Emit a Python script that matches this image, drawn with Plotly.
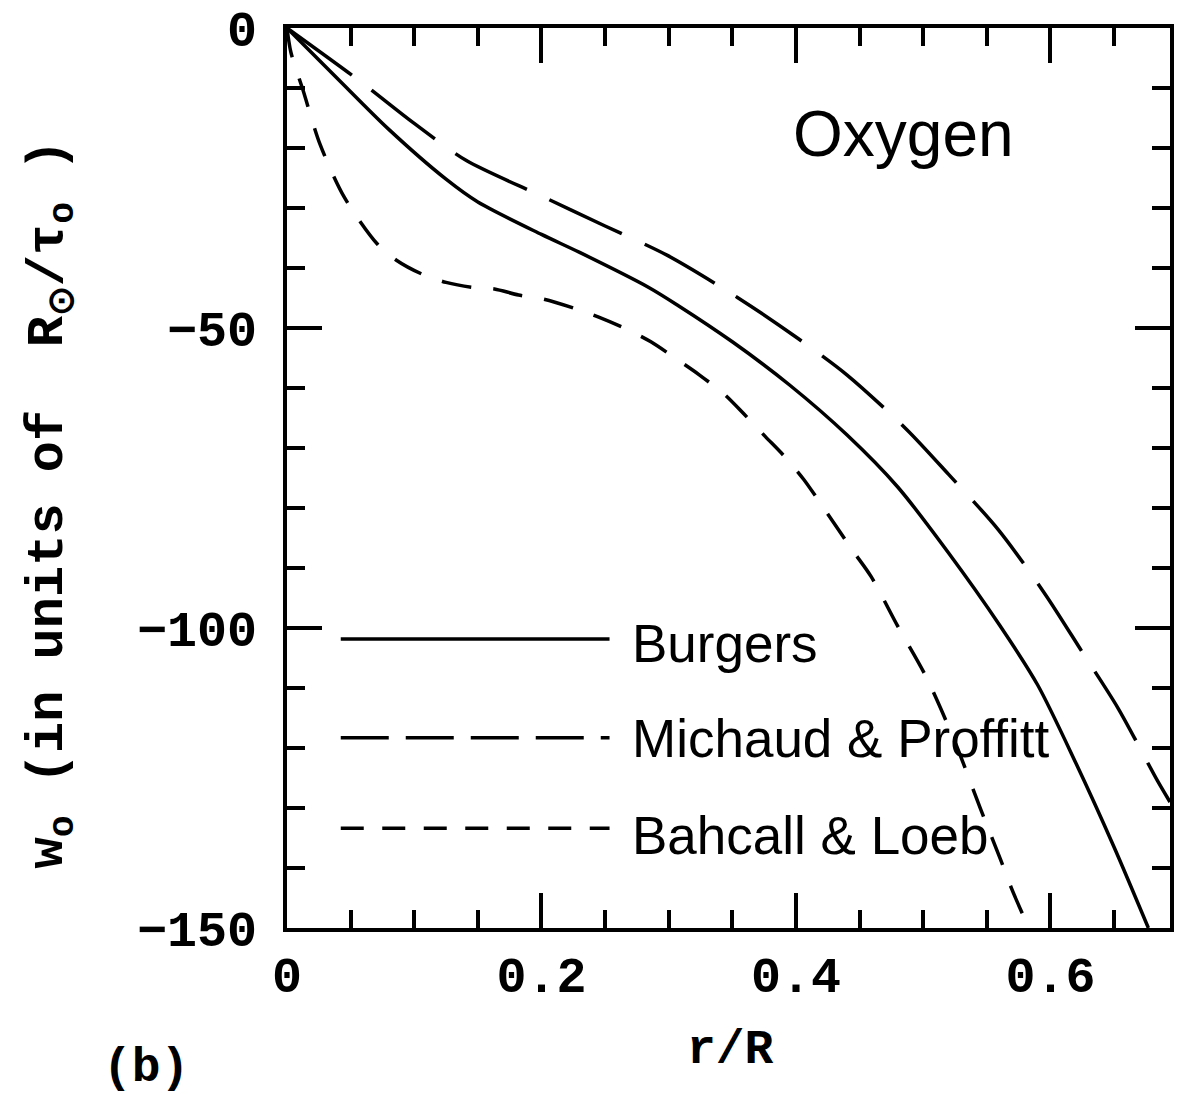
import plotly.graph_objects as go

# ---- data ----
burgers_x = [0, 0.04, 0.08, 0.125, 0.15, 0.2, 0.23, 0.284, 0.307, 0.35, 0.395,
             0.44, 0.48, 0.52, 0.56, 0.59, 0.62, 0.65, 0.677]
burgers_y = [0, -8.5, -16.9, -25.2, -29.0, -34.4, -37.4, -43.2, -46.2, -52.3, -59.5,
             -67.8, -76.5, -87.5, -99.5, -109.5, -122.5, -136.5, -150]

michaud_x = [0, 0.057, 0.1, 0.141, 0.199, 0.25, 0.299, 0.354, 0.4, 0.44, 0.487,
             0.52, 0.559, 0.596, 0.625, 0.653, 0.684, 0.694]
michaud_y = [0, -8.8, -15.9, -22.1, -27.9, -33.0, -37.9, -44.9, -51.5, -57.8, -66.9,
             -74.4, -83.6, -94.4, -104.0, -113.3, -125.4, -129.0]

bahcall_x = [0, 0.003, 0.0125, 0.026, 0.045, 0.071, 0.086, 0.106, 0.125, 0.145,
             0.163, 0.182, 0.202, 0.227, 0.245, 0.268, 0.286, 0.307, 0.324, 0.344,
             0.359, 0.376, 0.391, 0.406, 0.425, 0.445, 0.459, 0.48, 0.502, 0.525,
             0.545, 0.561, 0.57, 0.582]
bahcall_y = [0, -4.0, -10.3, -19.4, -28.2, -36.0, -38.7, -41.0, -42.4, -43.2,
             -43.5, -44.5, -45.2, -46.8, -48.2, -50.3, -52.3, -55.3, -57.8, -61.1,
             -64.3, -68.1, -71.4, -75.2, -81.0, -87.2, -91.4, -99.7, -108.0, -119.0,
             -130.1, -138.7, -143.7, -149.5]

series_names = ["Burgers", "Michaud & Proffitt", "Bahcall & Loeb"]
x_ticks = [0, 0.2, 0.4, 0.6]
x_tick_labels = ["0", "0.2", "0.4", "0.6"]
y_ticks = [0, -50, -100, -150]
y_tick_labels = ["0", "\u221250", "\u2212100", "\u2212150"]

fig = go.Figure()
fig.add_trace(go.Scatter(x=burgers_x, y=burgers_y, mode="lines", name=series_names[0],
                         line=dict(color="black", width=3.5, shape="spline", smoothing=0.8)))
fig.add_trace(go.Scatter(x=michaud_x, y=michaud_y, mode="lines", name=series_names[1],
                         line=dict(color="black", width=3.5, dash="80px,25px", shape="spline", smoothing=0.8)))
fig.add_trace(go.Scatter(x=bahcall_x, y=bahcall_y, mode="lines", name=series_names[2],
                         line=dict(color="black", width=3.5, dash="30px,22px", shape="spline", smoothing=0.8)))

W, H = 1177, 1095
L, R, T, B = 287, 3, 25, 167
pw, ph = W - L - R, H - T - B

def px(xp):
    return (xp - L) / pw

def py(yp):
    return (H - B - yp) / ph

tickfont = dict(family="Liberation Mono", size=50, color="black", weight="bold")

fig.update_layout(
    width=W, height=H,
    margin=dict(l=L, r=R, t=T, b=B),
    paper_bgcolor="white", plot_bgcolor="white",
    showlegend=False,
    xaxis=dict(range=[0, 0.694], tickvals=x_ticks, ticktext=x_tick_labels,
               ticks="inside", ticklen=35, tickwidth=3.5, tickcolor="black",
               minor=dict(dtick=0.05, ticks="inside", ticklen=18, tickwidth=3.5, tickcolor="black"),
               showline=True, linewidth=4, linecolor="black", mirror="ticks",
               showgrid=False, zeroline=False, tickfont=tickfont, ticklabelstandoff=0),
    yaxis=dict(range=[-150, 0], tickvals=y_ticks, ticktext=y_tick_labels,
               ticks="inside", ticklen=35, tickwidth=3.5, tickcolor="black",
               minor=dict(dtick=10, ticks="inside", ticklen=18, tickwidth=3.5, tickcolor="black"),
               showline=True, linewidth=4, linecolor="black", mirror="ticks",
               showgrid=False, zeroline=False, tickfont=tickfont, ticklabelstandoff=16),
)

# legend drawn inside the plot, as in the reference
leg_rows = [(638, 643, "solid"), (737, 738, "48px,17px"), (828, 835, "23px,18.5px")]
for (ly, ty, dash), name in zip(leg_rows, series_names):
    fig.add_shape(type="line", xref="paper", yref="paper",
                  x0=px(341), x1=px(611), y0=py(ly), y1=py(ly),
                  line=dict(color="black", width=3.5, dash=dash))
    fig.add_annotation(xref="paper", yref="paper", x=px(632), y=py(ty),
                       text=name, showarrow=False, xanchor="left", yanchor="middle",
                       font=dict(family="Liberation Sans", size=53, color="black"))

fig.add_annotation(xref="paper", yref="paper", x=px(906), y=py(131), text="Oxygen",
                   showarrow=False, xanchor="center", yanchor="middle",
                   font=dict(family="Liberation Sans", size=64, color="black"))

monofont = dict(family="Liberation Mono", size=48, color="black", weight="bold")
fig.add_annotation(xref="paper", yref="paper", x=px(733), y=py(1050), text="r/R",
                   showarrow=False, xanchor="center", yanchor="middle", font=monofont)
fig.add_annotation(xref="paper", yref="paper", x=px(145), y=py(1068), text="(b)",
                   showarrow=False, xanchor="center", yanchor="middle", font=monofont)
fig.add_annotation(xref="paper", yref="paper", x=px(50), y=py(503),
                   text="w<sub>o</sub> (in units of  R<sub>\u2299</sub>/\u03c4<sub>o</sub> )",
                   textangle=-90, showarrow=False, xanchor="center", yanchor="middle",
                   font=dict(family="Liberation Mono", size=52, color="black", weight="bold"))

fig.write_html("out.html")
